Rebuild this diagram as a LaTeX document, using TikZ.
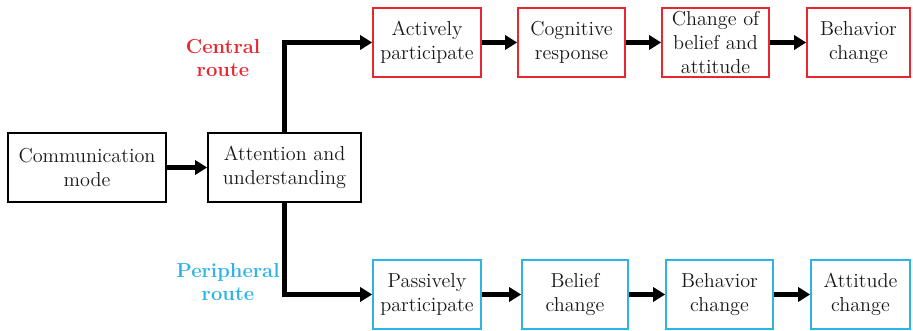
\documentclass[tikz,border=0pt]{standalone}
\usetikzlibrary{arrows.meta,positioning}
\definecolor{cenRed}{HTML}{E8262E}
\definecolor{perBlue}{HTML}{2DB4E6}

\begin{document}
\begin{tikzpicture}[
  font=\fontsize{11.5}{13.5}\selectfont,
  bx/.style={draw=#1, line width=0.9pt, fill=white, align=center, inner sep=0pt,
    minimum height=1.38cm, text=black!90},
  go/.style={line width=2.8pt, -{Triangle[length=0.24cm,width=0.28cm]}},
  rt/.style={text=#1, font=\fontsize{11.5}{13.5}\selectfont\bfseries, align=center},
]
\useasboundingbox (0,0) rectangle (18.26,6.62);
\node[bx=black, minimum width=3.16cm] (cm) at (1.74,3.27) {Communication\\mode};
\node[bx=black, minimum width=3.06cm] (au) at (5.69,3.27) {Attention and\\understanding};
\node[bx=cenRed, minimum width=2.16cm] (ap) at (8.54,5.77) {Actively\\participate};
\node[bx=cenRed, minimum width=2.14cm] (cr) at (11.43,5.77) {Cognitive\\response};
\node[bx=cenRed, minimum width=2.14cm] (cba) at (14.31,5.77) {Change of\\belief and\\attitude};
\node[bx=cenRed, minimum width=2.06cm] (bc) at (17.17,5.77) {Behavior\\change};
\node[bx=perBlue, minimum width=2.16cm] (pp) at (8.54,0.73) {Passively\\participate};
\node[bx=perBlue, minimum width=2.12cm] (blc) at (11.5,0.73) {Belief\\change};
\node[bx=perBlue, minimum width=2.14cm] (bhc) at (14.39,0.73) {Behavior\\change};
\node[bx=perBlue, minimum width=1.98cm] (atc) at (17.21,0.73) {Attitude\\change};
\node[rt=cenRed] (cen) at (4.46,5.46) {Central\\route};
\node[rt=perBlue] (per) at (4.56,0.98) {Peripheral\\route};
% connectors
\draw[go] (cm) -- (au);
\draw[go] (au.north) |- (ap.west);
\draw[go] (au.south) |- (pp.west);
\draw[go] (ap) -- (cr);
\draw[go] (cr) -- (cba);
\draw[go] (cba) -- (bc);
\draw[go] (pp) -- (blc);
\draw[go] (blc) -- (bhc);
\draw[go] (bhc) -- (atc);
\end{tikzpicture}
\end{document}
